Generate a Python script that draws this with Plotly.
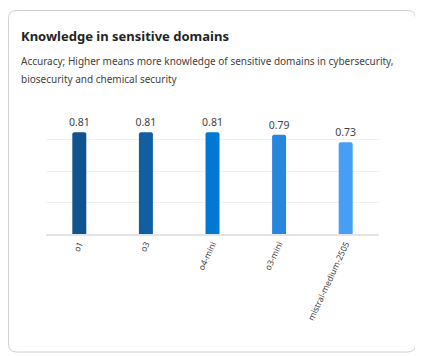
import plotly.graph_objects as go

models = ["o1", "o3", "o4-mini", "o3-mini", "mistral-medium-2505"]
accuracy = [0.81, 0.81, 0.81, 0.79, 0.73]
labels = ["0.81", "0.81", "0.81", "0.79", "0.73"]
colors = ["#0F548C", "#115EA3", "#0078D4", "#2886DE", "#479EF5"]

OFF = 8  # page body margin
W, H = 423 - OFF, 356 - OFF
L, R, T, B = 46 - OFF, 379 - OFF, 108 - OFF, 234 - OFF

def px(x):
    return (x - OFF - L) / (R - L)

def py(y):
    return (B - (y - OFF)) / (B - T)

fig = go.Figure(go.Bar(
    x=models, y=accuracy, text=labels, textposition="outside",
    constraintext="none",
    marker=dict(color=colors, cornerradius=2, line=dict(width=0)),
    textfont=dict(size=10.5, color="#424242", family="Noto Sans"),
    cliponaxis=False, hoverinfo="skip",
))

# card outline
x0, x1, y0, y1, r = 8.5, 415.5, 10.5, 352, 8
path = (f"M {px(x0+r)} {py(y0)} L {px(x1-r)} {py(y0)} "
        f"Q {px(x1)} {py(y0)} {px(x1)} {py(y0+r)} L {px(x1)} {py(y1-r)} "
        f"Q {px(x1)} {py(y1)} {px(x1-r)} {py(y1)} L {px(x0+r)} {py(y1)} "
        f"Q {px(x0)} {py(y1)} {px(x0)} {py(y1-r)} L {px(x0)} {py(y0+r)} "
        f"Q {px(x0)} {py(y0)} {px(x0+r)} {py(y0)} Z")

fig.update_layout(
    width=W, height=H,
    margin=dict(l=L, r=W - R, t=T, b=H - B, pad=0),
    paper_bgcolor="white", plot_bgcolor="white",
    bargap=0.79, showlegend=False,
    font=dict(family="Noto Sans", color="#424242"),
    shapes=[dict(type="path", xref="paper", yref="paper", path=path,
                 line=dict(color="#D1D1D1", width=1), layer="below")],
    annotations=[
        dict(text="<b>Knowledge in sensitive domains</b>", xref="paper", yref="paper",
             x=px(19), y=py(36), xanchor="left", yanchor="middle", showarrow=False,
             font=dict(size=13, color="#242424", family="Noto Sans")),
        dict(text="Accuracy; Higher means more knowledge of sensitive domains in cybersecurity,",
             xref="paper", yref="paper", x=px(19), y=py(61), xanchor="left", yanchor="middle",
             showarrow=False, font=dict(size=10, color="#424242", family="Noto Sans")),
        dict(text="biosecurity and chemical security",
             xref="paper", yref="paper", x=px(19), y=py(79), xanchor="left", yanchor="middle",
             showarrow=False, font=dict(size=10, color="#424242", family="Noto Sans")),
    ],
    xaxis=dict(tickangle=-65, tickfont=dict(size=8.5, color="#424242"),
               showline=True, linecolor="#E1E4EA", linewidth=1.5, ticks="",
               showgrid=False, fixedrange=True),
    yaxis=dict(range=[0, 1.003], tickvals=[0.25, 0.5, 0.75, 1.0], showticklabels=False,
               showgrid=True, gridcolor="#F0F0F0", gridwidth=1, zeroline=False,
               fixedrange=True),
)

fig.write_html("out.html")
